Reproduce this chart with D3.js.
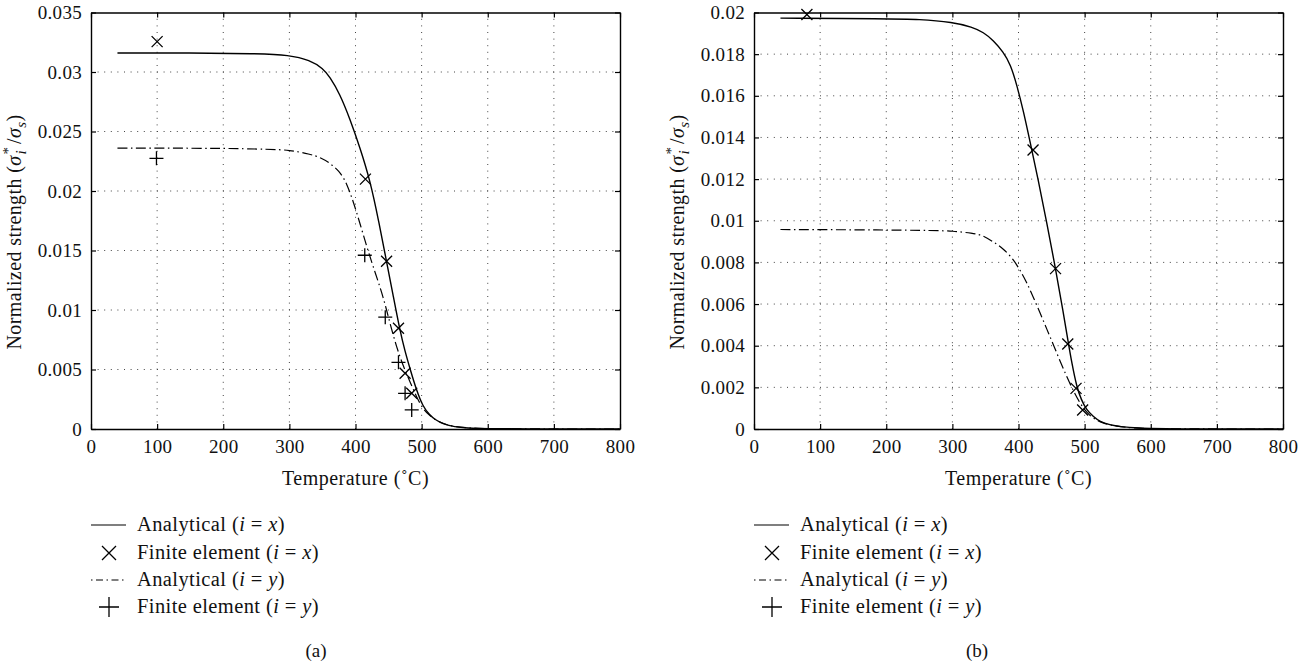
<!DOCTYPE html>
<html>
<head>
<meta charset="utf-8">
<script src="https://cdn.jsdelivr.net/npm/d3@7"></script>
<style>
  body { margin: 0; background: #fff; }
  svg { font-family: "Liberation Serif", "Times New Roman", serif; }
</style>
</head>
<body>
<div id="chart"></div>
<script>
// values: [temperature, normalized strength]
const analyticalXA = [[40,0.0316],[150,0.0316],[250,0.03155],[300,0.03143],[331,0.0310],[351,0.0303],[361,0.0296],[376,0.0282],[392,0.026],[407,0.0236],[422,0.0209],[435,0.0175],[447,0.01406],[457,0.0112],[467,0.00832],[475,0.0065],[483,0.00496],[492,0.0033],[502,0.00187],[512,0.0012],[520,0.0008],[533,0.0004],[550,0.00018],[568,0.00008],[600,0.00002],[650,0],[800,0]];
const analyticalYA = [[40,0.0236],[200,0.0236],[270,0.0235],[300,0.02345],[331,0.0231],[348,0.0228],[361,0.02235],[375,0.0217],[387,0.0207],[402,0.0182],[417,0.0153],[430,0.0131],[442,0.0111],[452,0.0089],[462,0.0069],[472,0.0053],[483,0.0039],[493,0.0026],[503,0.0016],[513,0.0011],[523,0.0007],[535,0.0004],[550,0.0002],[570,0.00008],[600,0.00002],[650,0],[800,0]];
const feXA = [[100,0.03255],[415,0.021],[447,0.0141],[465,0.00846],[475,0.00468],[485,0.0030]];
const feYA = [[99,0.02275],[414,0.0146],[445,0.0094],[465,0.0056],[475,0.0030],[485,0.0016]];

const analyticalXB = [[40,0.01973],[200,0.0197],[250,0.01968],[301,0.01953],[330,0.0193],[347,0.01905],[362,0.01866],[377,0.0181],[388,0.0175],[397,0.01658],[408,0.0152],[417,0.01386],[430,0.01194],[443,0.00987],[456,0.0077],[468,0.00555],[474.5,0.0043],[481,0.0031],[488,0.00203],[495,0.0014],[503,0.00091],[513,0.0006],[523,0.00035],[538,0.0002],[554,0.00011],[580,0.00004],[620,0],[800,0]];
const analyticalYB = [[40,0.00958],[200,0.00956],[270,0.00953],[301,0.00951],[330,0.0094],[347,0.0093],[362,0.00898],[377,0.00867],[392,0.00815],[402,0.00765],[412,0.00707],[422,0.00635],[433,0.00555],[443,0.00478],[453,0.00403],[463,0.00325],[473,0.00251],[483,0.00183],[493,0.00123],[503,0.0008],[513,0.0005],[528,0.00028],[543,0.00016],[560,0.00008],[590,0.00002],[640,0],[800,0]];
const feXB = [[80,0.0199],[422,0.0134],[456,0.0077],[474.5,0.00408],[487,0.00195],[497,0.00091]];
const feYB = [];

const xTicks = [0,100,200,300,400,500,600,700,800];
const yTicksA = [0,0.005,0.01,0.015,0.02,0.025,0.03,0.035];
const yTicksB = [0,0.002,0.004,0.006,0.008,0.01,0.012,0.014,0.016,0.018,0.02];
const legendLabels = [["Analytical (", "x"], ["Finite element (", "x"], ["Analytical (", "y"], ["Finite element (", "y"]];

const W = 1313, H = 663;
const svg = d3.select("#chart").append("svg").attr("width", W).attr("height", H);

const fmt = d3.format(".3~f");

function drawPanel(cfg) {
  const x = d3.scaleLinear().domain([0, 800]).range([cfg.left, cfg.right]);
  const y = d3.scaleLinear().domain([0, cfg.yMax]).range([429, 12.5]);
  const g = svg.append("g");

  // dotted grid
  g.selectAll(".gx").data(xTicks.slice(1, -1)).enter().append("line")
    .attr("x1", d => x(d)).attr("x2", d => x(d)).attr("y1", y(0)).attr("y2", y(cfg.yMax))
    .attr("stroke", "#444").attr("stroke-width", 1).attr("stroke-dasharray", "1,5.6");
  g.selectAll(".gy").data(cfg.yTicks.slice(1, -1)).enter().append("line")
    .attr("x1", x(0)).attr("x2", x(800)).attr("y1", d => y(d)).attr("y2", d => y(d))
    .attr("stroke", "#444").attr("stroke-width", 1).attr("stroke-dasharray", "1,5.6");

  // axes with inward ticks on all four sides
  const axB = g.append("g").attr("transform", `translate(0,${y(0)})`)
    .call(d3.axisBottom(x).tickValues(xTicks).tickSizeInner(-5).tickSizeOuter(0).tickPadding(11).tickFormat(d3.format("d")));
  const axT = g.append("g").attr("transform", `translate(0,${y(cfg.yMax)})`)
    .call(d3.axisTop(x).tickValues(xTicks).tickSizeInner(-5).tickSizeOuter(0).tickFormat(""));
  const axL = g.append("g").attr("transform", `translate(${x(0)},0)`)
    .call(d3.axisLeft(y).tickValues(cfg.yTicks).tickSizeInner(-5).tickSizeOuter(0).tickPadding(9).tickFormat(fmt));
  const axR = g.append("g").attr("transform", `translate(${x(800)},0)`)
    .call(d3.axisRight(y).tickValues(cfg.yTicks).tickSizeInner(-5).tickSizeOuter(0).tickFormat(""));
  [axB, axT, axL, axR].forEach(a => {
    a.select(".domain").attr("stroke", "#000").attr("stroke-width", 1.4);
    a.selectAll(".tick line").attr("stroke", "#000").attr("stroke-width", 1.2);
    a.selectAll("text").attr("font-family", "Liberation Serif, serif").attr("font-size", 19)
      .attr("letter-spacing", 0.3).attr("fill", "#111");
  });

  const line = d3.line().x(d => x(d[0])).y(d => y(d[1])).curve(d3.curveBasis);
  g.append("path").datum(cfg.anaY).attr("d", line).attr("fill", "none")
    .attr("stroke", "#000").attr("stroke-width", 1.2).attr("stroke-dasharray", "10,3.5,1.5,3.5");
  g.append("path").datum(cfg.anaX).attr("d", line).attr("fill", "none")
    .attr("stroke", "#000").attr("stroke-width", 1.4);

  // markers
  const s = 5.5;
  g.selectAll(".mx").data(cfg.feX).enter().append("path")
    .attr("d", d => `M${x(d[0])-s},${y(d[1])-s}L${x(d[0])+s},${y(d[1])+s}M${x(d[0])-s},${y(d[1])+s}L${x(d[0])+s},${y(d[1])-s}`)
    .attr("stroke", "#000").attr("stroke-width", 1.3);
  const p = 7;
  g.selectAll(".mp").data(cfg.feY).enter().append("path")
    .attr("d", d => `M${x(d[0])-p},${y(d[1])}L${x(d[0])+p},${y(d[1])}M${x(d[0])},${y(d[1])-p}L${x(d[0])},${y(d[1])+p}`)
    .attr("stroke", "#000").attr("stroke-width", 1.3);

  // axis titles
  g.append("text").attr("x", (cfg.left + cfg.right) / 2).attr("y", 485)
    .attr("text-anchor", "middle").attr("font-size", 20).attr("fill", "#111")
    .attr("letter-spacing", 0.5).text("Temperature (˚C)");

  const yl = g.append("text").attr("transform", `translate(${cfg.left - 70},232) rotate(-90)`)
    .attr("text-anchor", "middle").attr("font-size", 20).attr("letter-spacing", 0.4).attr("fill", "#111");
  yl.append("tspan").text("Normalized strength (");
  yl.append("tspan").attr("font-style", "italic").text("σ");
  yl.append("tspan").attr("font-size", 15).attr("dy", -8).attr("dx", 1).text("*");
  yl.append("tspan").attr("font-size", 15).attr("font-style", "italic").attr("dx", -8).attr("dy", 13).text("i");
  yl.append("tspan").attr("dy", -5).attr("dx", 6).text("/");
  yl.append("tspan").attr("font-style", "italic").text("σ");
  yl.append("tspan").attr("font-size", 15).attr("font-style", "italic").attr("dy", 5).text("s");
  yl.append("tspan").attr("dy", -5).text(")");

  // legend
  const lx = cfg.left, rows = [525, 553, 580, 607];
  const lg = g.append("g");
  lg.append("line").attr("x1", lx).attr("x2", lx + 35).attr("y1", rows[0]).attr("y2", rows[0])
    .attr("stroke", "#000").attr("stroke-width", 1.2);
  const c = lx + 18;
  lg.append("path").attr("d", `M${c-7},${rows[1]-7}L${c+7},${rows[1]+7}M${c-7},${rows[1]+7}L${c+7},${rows[1]-7}`)
    .attr("stroke", "#000").attr("stroke-width", 1.3);
  lg.append("line").attr("x1", lx).attr("x2", lx + 35).attr("y1", rows[2]).attr("y2", rows[2])
    .attr("stroke", "#000").attr("stroke-width", 1.2).attr("stroke-dasharray", "1.5,3.5,7,3.5");
  lg.append("path").attr("d", `M${c-10},${rows[3]}L${c+10},${rows[3]}M${c},${rows[3]-10}L${c},${rows[3]+10}`)
    .attr("stroke", "#000").attr("stroke-width", 1.3);

  legendLabels.forEach((lab, i) => {
    const t = lg.append("text").attr("x", lx + 46).attr("y", rows[i] + 6)
      .attr("font-size", 20.5).attr("letter-spacing", 0.4).attr("fill", "#111");
    t.append("tspan").text(lab[0]);
    t.append("tspan").attr("font-style", "italic").text("i");
    t.append("tspan").text(" = ");
    t.append("tspan").attr("font-style", "italic").text(lab[1]);
    t.append("tspan").text(")");
  });

  g.append("text").attr("x", cfg.caption).attr("y", 657).attr("text-anchor", "middle")
    .attr("font-size", 19).attr("fill", "#111").text(cfg.label);
}

drawPanel({ left: 91, right: 620, yMax: 0.035, yTicks: yTicksA,
  anaX: analyticalXA, anaY: analyticalYA, feX: feXA, feY: feYA, caption: 316, label: "(a)" });
drawPanel({ left: 754, right: 1283, yMax: 0.02, yTicks: yTicksB,
  anaX: analyticalXB, anaY: analyticalYB, feX: feXB, feY: feYB, caption: 977, label: "(b)" });
</script>
</body>
</html>
